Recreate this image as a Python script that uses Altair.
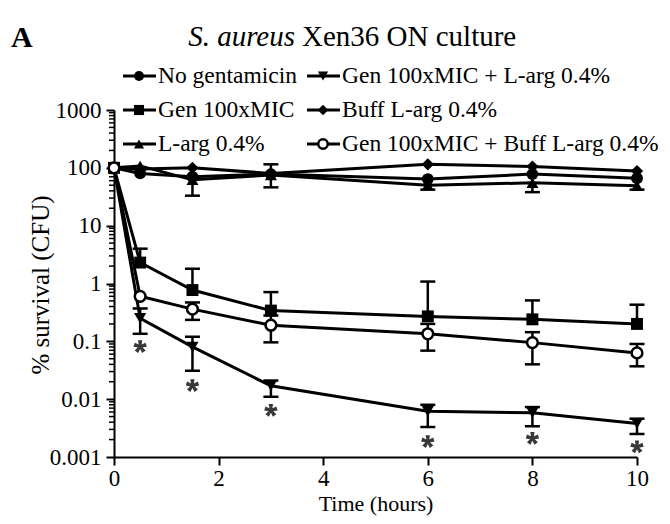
import math
import altair as alt
import pandas as pd

# ---------------- data ----------------
times = [0, 0.5, 1.5, 3, 6, 8, 10]
series_names = [
    "No gentamicin",
    "Gen 100xMIC",
    "L-arg 0.4%",
    "Gen 100xMIC + L-arg 0.4%",
    "Buff L-arg 0.4%",
    "Gen 100xMIC + Buff L-arg 0.4%",
]

no_gent = [100, 80, 70, 78, 64, 78, 66]
gen = [100, 2.3, 0.77, 0.34, 0.27, 0.24, 0.20]
larg = [100, 108, 62, 75, 50, 55, 49]
gen_larg = [100, 0.25, 0.08, 0.017, 0.0062, 0.0058, 0.0038]
buff = [100, 95, 100, 80, 115, 105, 88]
gen_buff = [100, 0.6, 0.36, 0.19, 0.135, 0.095, 0.063]

# error bar ends (None = not visible)
no_gent_lo = [None] * 7
no_gent_hi = [None] * 7
gen_lo = [None] * 7
gen_hi = [None, 4.0, 1.8, 0.71, 1.08, 0.51, 0.43]
larg_lo = [None, None, 33, 46, 42, 38, 42]
larg_hi = [None, None, None, 115, None, None, None]
gen_larg_lo = [None, 0.135, 0.031, 0.011, 0.0033, 0.0034, 0.0025]
gen_larg_hi = [None, 0.37, 0.12, 0.021, 0.008, 0.0073, 0.0046]
buff_lo = [None] * 7
buff_hi = [None] * 7
gen_buff_lo = [None, None, 0.235, 0.096, 0.069, 0.040, 0.037]
gen_buff_hi = [None, None, 0.47, 0.28, 0.20, 0.144, 0.09]

# significance asterisks (placed below the Gen + L-arg curve)
star_times = [0.5, 1.5, 3, 6, 8, 10]
star_vals = [0.081, 0.0172, 0.0064, 0.00185, 0.0021, 0.0015]

y_major = [0.001, 0.01, 0.1, 1, 10, 100, 1000]
x_ticks = [0, 2, 4, 6, 8, 10]

# ---------------- build tables ----------------
values = [no_gent, gen, larg, gen_larg, buff, gen_buff]
los = [no_gent_lo, gen_lo, larg_lo, gen_larg_lo, buff_lo, gen_buff_lo]
his = [no_gent_hi, gen_hi, larg_hi, gen_larg_hi, buff_hi, gen_buff_hi]

rows = []
for name, vals, lo, hi in zip(series_names, values, los, his):
    for t, v, l, h in zip(times, vals, lo, hi):
        rows.append({"series": name, "time": t, "value": v, "lo": l, "hi": h})
df = pd.DataFrame(rows)

err = df[df["lo"].notna() | df["hi"].notna()].copy()
err["a"] = err["lo"].fillna(err["value"])
err["b"] = err["hi"].fillna(err["value"])
caps_hi = df[df["hi"].notna()].copy()
caps_lo = df[df["lo"].notna()].copy()

stars = pd.DataFrame({"time": star_times, "value": star_vals})

minor = []
for e in range(-3, 3):
    for k in range(2, 10):
        minor.append(k * 10.0 ** e)
minor_df = pd.DataFrame({"m": minor})

# bold asterisk glyph as a symbol path (5 petals), unit box [-1, 1]
parts = []
for i in range(5):
    a = -math.pi / 2 + i * 2 * math.pi / 5
    pts = []
    for ang, rad in [(a - 0.75, 0.3), (a - 0.32, 1.0), (a + 0.32, 1.0), (a + 0.75, 0.3)]:
        pts.append((rad * math.cos(ang), rad * math.sin(ang)))
    parts.append("M0,0 " + " ".join("L%.3f,%.3f" % p for p in pts) + " Z")
STAR_PATH = " ".join(parts)

filled_names = series_names[:5]
filled_shapes = ["circle", "square", "triangle-up", "triangle-down", "diamond"]
filled_sizes = [140, 150, 150, 150, 120]

W, H = 523, 347
FONT = "Liberation Serif"

xs = alt.Scale(domain=[0, 10], nice=False, zero=False)
ys = alt.Scale(type="log", domain=[0.001, 1000], nice=False)

xax = alt.Axis(
    values=x_ticks, format="d", title=None, grid=False, labelFlush=False,
    labelFont=FONT, labelFontSize=23, labelColor="black", labelPadding=2,
    tickColor="black", tickSize=8, tickWidth=2,
    domainColor="black", domainWidth=2)
yax = alt.Axis(
    values=y_major, labelExpr="format(datum.value, '~g')", title=None, grid=False, labelFlush=False,
    labelFont=FONT, labelFontSize=23, labelColor="black", labelPadding=5,
    tickColor="black", tickSize=8, tickWidth=2,
    domainColor="black", domainWidth=2)


def XF(f):
    return alt.X(f, scale=xs, axis=xax)


def YF(f):
    return alt.Y(f, scale=ys, axis=yax)


minor_layer = alt.Chart(minor_df).mark_rule(color="black", strokeWidth=1.5).encode(
    y=YF("m:Q"), x=alt.value(-5), x2=alt.value(0),
)

err_rules = alt.Chart(err).mark_rule(color="black", strokeWidth=2.5).encode(
    x=XF("time:Q"), y=YF("a:Q"), y2="b:Q"
)
cap_h = alt.Chart(caps_hi).mark_tick(orient="horizontal", size=15, thickness=2.5, color="black", opacity=1).encode(
    x=XF("time:Q"), y=YF("hi:Q")
)
cap_l = alt.Chart(caps_lo).mark_tick(orient="horizontal", size=15, thickness=2.5, color="black", opacity=1).encode(
    x=XF("time:Q"), y=YF("lo:Q")
)

lines = alt.Chart(df).mark_line(color="black", strokeWidth=3).encode(
    x=XF("time:Q"), y=YF("value:Q"), detail="series:N"
)

pts_filled = alt.Chart(df[df["series"].isin(filled_names)]).mark_point(
    filled=True, color="black", opacity=1
).encode(
    x=XF("time:Q"), y=YF("value:Q"),
    shape=alt.Shape("series:N", scale=alt.Scale(domain=filled_names, range=filled_shapes), legend=None),
    size=alt.Size("series:N", scale=alt.Scale(domain=filled_names, range=filled_sizes), legend=None),
)

pts_open = alt.Chart(df[df["series"] == series_names[5]]).mark_point(
    shape="circle", fill="white", fillOpacity=1, stroke="black", strokeWidth=2.5, size=115, opacity=1
).encode(x=XF("time:Q"), y=YF("value:Q"))

star_layer = alt.Chart(stars).mark_point(
    shape=STAR_PATH, filled=True, color="#383838", opacity=1, size=180
).encode(x=XF("time:Q"), y=YF("value:Q"))

main = alt.layer(minor_layer, err_rules, cap_h, cap_l, lines, pts_filled, pts_open, star_layer)

# ---------------- legend (pixel scales) ----------------
col_x = [25, 209]
row_y = [-34, 0, 34]
leg_rows = []
for i, name in enumerate(series_names):
    c, r = divmod(i, 3)
    leg_rows.append({
        "series": name,
        "lx": col_x[c], "ly": row_y[r],
        "l0": col_x[c] - 16, "l1": col_x[c] + 17, "tx": col_x[c] + 19,
    })
leg = pd.DataFrame(leg_rows)

px = alt.Scale(domain=[0, W], range=[0, W], zero=False, nice=False)
py = alt.Scale(domain=[0, H], range=[0, H], zero=False, nice=False)

leg_lines = alt.Chart(leg).mark_rule(color="black", strokeWidth=3).encode(
    x=alt.X("l0:Q", scale=px, axis=None), x2="l1:Q",
    y=alt.Y("ly:Q", scale=py, axis=None),
)
leg_filled = alt.Chart(leg[leg["series"].isin(filled_names)]).mark_point(
    filled=True, color="black", opacity=1
).encode(
    x=alt.X("lx:Q", scale=px, axis=None),
    y=alt.Y("ly:Q", scale=py, axis=None),
    shape=alt.Shape("series:N", scale=alt.Scale(domain=filled_names, range=filled_shapes), legend=None),
    size=alt.Size("series:N", scale=alt.Scale(domain=filled_names, range=[100, 110, 110, 110, 90]), legend=None),
)
leg_open = alt.Chart(leg[leg["series"] == series_names[5]]).mark_point(
    shape="circle", fill="white", fillOpacity=1, stroke="black", strokeWidth=2.5, size=90, opacity=1
).encode(
    x=alt.X("lx:Q", scale=px, axis=None),
    y=alt.Y("ly:Q", scale=py, axis=None),
)
leg_text = alt.Chart(leg).mark_text(
    font=FONT, fontSize=23.5, color="black", align="left", baseline="middle"
).encode(
    x=alt.X("tx:Q", scale=px, axis=None),
    y=alt.Y("ly:Q", scale=py, axis=None),
    text="series:N",
)
legend = alt.layer(leg_lines, leg_filled, leg_open, leg_text)

# ---------------- titles ----------------
one = pd.DataFrame({"k": [0]})


def label(txt, x, y, **kw):
    return alt.Chart(one).mark_text(font=FONT, color="black", **kw).encode(
        x=alt.value(x), y=alt.value(y), text=alt.value(txt)
    )


t_a = label("A", -103, -72, fontSize=30, fontWeight="bold", align="left", baseline="middle")
t_it = label("S. aureus", 181, -73, fontSize=29, fontStyle="italic", align="right", baseline="middle")
t_rest = label("Xen36 ON culture", 188, -73, fontSize=29, align="left", baseline="middle")
t_y = label("% survival (CFU)", -73, 175, fontSize=25, angle=270, align="center", baseline="middle")
t_x = label("Time (hours)", 262, 401, fontSize=22, align="center", baseline="alphabetic")

chart = alt.layer(main, legend, t_a, t_it, t_rest, t_y, t_x).resolve_scale(
    x="independent", y="independent", shape="independent", size="independent"
).properties(
    width=W, height=H,
    autosize=alt.AutoSizeParams(type="none"),
    padding={"left": 106, "top": 102, "right": 25, "bottom": 59},
    background="white",
).configure_view(stroke=None)

chart.save("out.html", embed_options={"renderer": "svg", "actions": False})
